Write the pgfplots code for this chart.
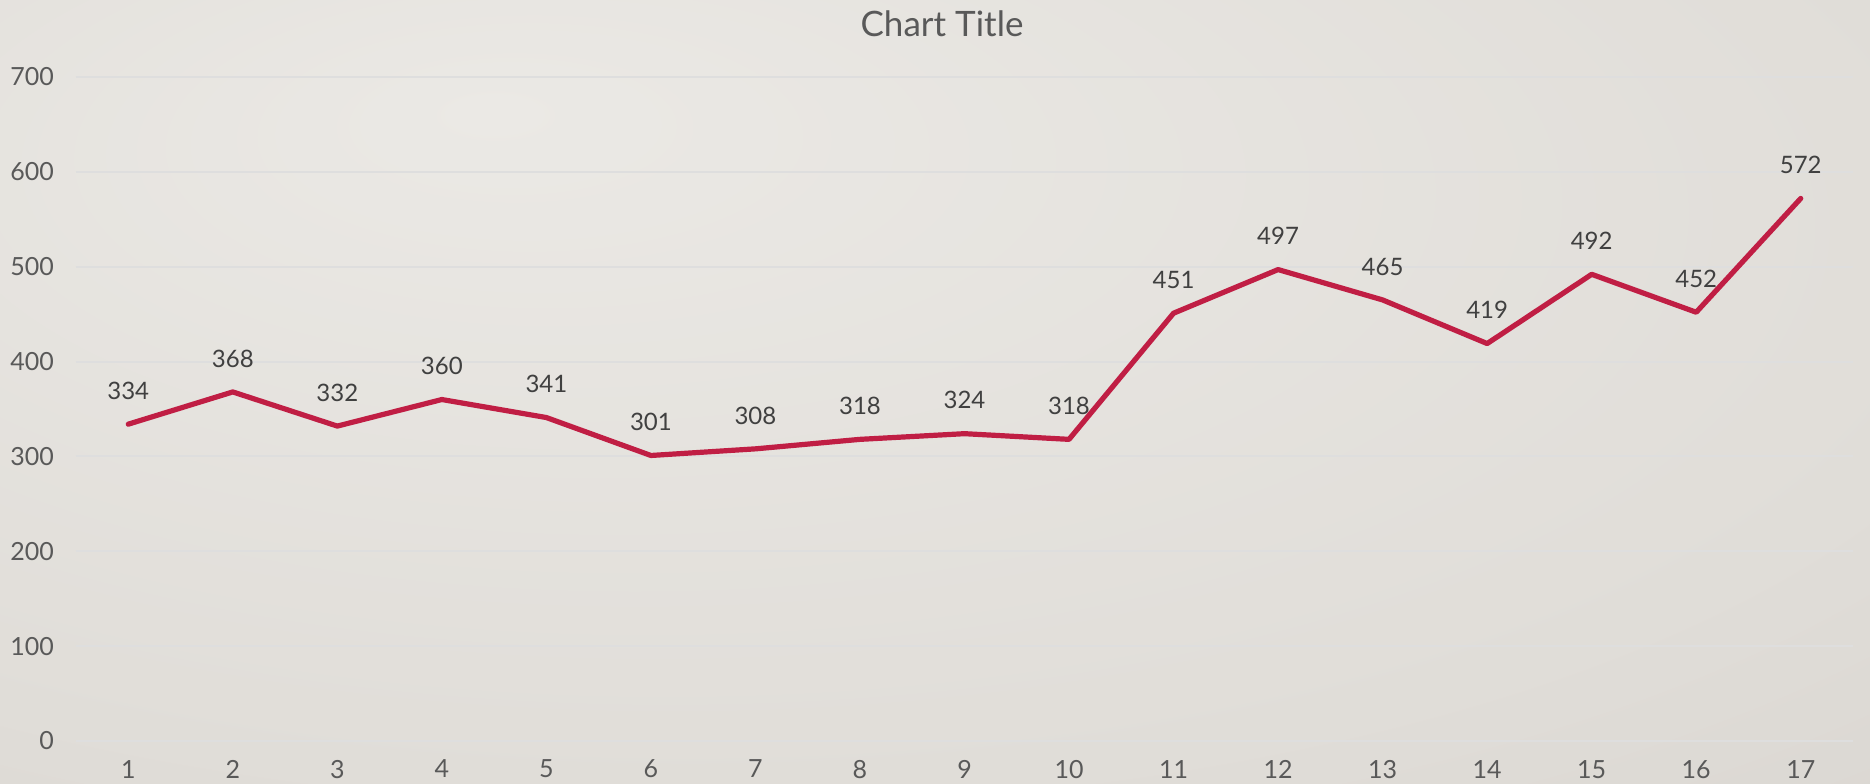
\documentclass[border=0pt]{standalone}
\usepackage{pgfplots}
\pgfplotsset{compat=1.18}
\usepackage{fontspec}
\setmainfont{Lato}
\definecolor{linecol}{RGB}{192,30,68}
\definecolor{gridcol}{RGB}{222,222,222}
\definecolor{tickcol}{RGB}{89,89,89}
\definecolor{labcol}{RGB}{64,64,64}
\definecolor{bgA}{RGB}{235,233,229}
\definecolor{bgB}{RGB}{224,221,216}
\definecolor{bgC}{RGB}{204,200,195}
\pgfdeclareradialshading{bgshade}{\pgfpoint{-12bp}{18bp}}{color(0bp)=(bgA); color(35bp)=(bgB); color(75bp)=(bgC)}
\begin{document}
\begin{tikzpicture}
\shade[shading=bgshade] (-38pt,-21pt) rectangle (897pt,370.5pt);
\useasboundingbox (-38pt,-21pt) rectangle (897pt,370.5pt);
\begin{axis}[
  at={(0,0)}, anchor=south west,
  scale only axis, width=888.5pt, height=332pt,
  xmin=0.5, xmax=17.5, ymin=0, ymax=700,
  xtick={1,...,17}, ytick={0,100,...,700},
  axis line style={draw=none},
  major tick length=0pt,
  ymajorgrids, grid style={gridcol, line width=1pt},
  tick label style={font=\fontsize{12.5}{14}\selectfont, text=tickcol},
  /pgf/number format/assume math mode=true,
  xticklabel style={yshift=-6pt},
  yticklabel style={xshift=-7.5pt},
  clip=false,
  nodes near coords,
  every node near coord/.append style={font=\fontsize{12}{14}\selectfont, text=labcol, anchor=south, inner sep=0pt, yshift=11pt},
]
\addplot[linecol, line width=2.6pt, line join=round, line cap=round] coordinates {
(1,334) (2,368) (3,332) (4,360) (5,341) (6,301) (7,308) (8,318) (9,324) (10,318)
(11,451) (12,497) (13,465) (14,419) (15,492) (16,452) (17,572)
};
\end{axis}
\node[anchor=base, text=tickcol, font=\fontsize{17.5}{20}\selectfont, inner sep=0pt] at (433pt,352pt) {Chart Title};
\end{tikzpicture}
\end{document}
